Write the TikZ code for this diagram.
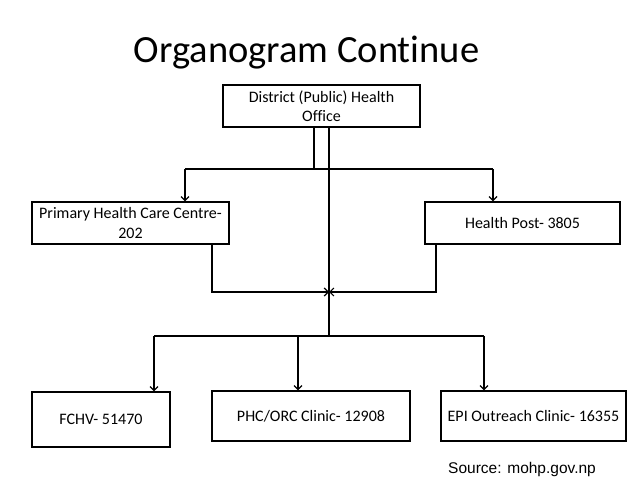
\documentclass[tikz,border=0pt]{standalone}
\usepackage{fontspec}
\setmainfont{Carlito}[RawFeature=-liga]
\newfontfamily\srcfont{Liberation Sans}
\usetikzlibrary{arrows.meta}
\begin{document}
\begin{tikzpicture}[x=1pt,y=-1pt,
  box/.style={draw,line width=1.3pt,align=center,inner sep=0pt,font=\fontsize{16}{19.5}\selectfont},
  ln/.style={line width=1.3pt},
  arr/.style={ln,-{Straight Barb[length=4pt,width=8pt,line width=1.2pt]}}]
\useasboundingbox (0,0) rectangle (638,479);
\node[anchor=base,inner sep=0pt] (title) at (306.5,62) {\fontsize{38.5}{40}\selectfont Organogram Continue};
\node[box,minimum width=197pt,minimum height=42pt] (top) at (321.5,106) {District (Public) Health\\Office};
\node[box,minimum width=197pt,minimum height=42pt] (pri) at (130.5,223) {Primary Health Care Centre-\\202};
\node[box,minimum width=195pt,minimum height=42pt] (hp) at (522.5,223) {Health Post- 3805};
\node[box,minimum width=138pt,minimum height=55pt] (fchv) at (101,419.5) {FCHV- 51470};
\node[box,minimum width=198pt,minimum height=50pt] (phc) at (311,416) {PHC/ORC Clinic- 12908};
\node[box,minimum width=185pt,minimum height=50pt] (epi) at (533.5,416) {EPI Outreach Clinic- 16355};
\node[anchor=base west,inner sep=0pt,font=\srcfont\fontsize{15.5}{18}\selectfont] (src) at (448,473) {Source: mohp.gov.np};
% upper bus
\coordinate (j1) at (314,169);
\coordinate (bL) at (185,169);
\coordinate (bR) at (493,169);
\draw[ln] (top.south -| j1) -- (j1);
\draw[ln] (bL) -- (bR);
\draw[arr] (bL) -- (bL |- pri.north);
\draw[arr] (bR) -- (bR |- hp.north);
% trunk
\coordinate (trunk) at (329,336);
\coordinate (m) at (329,292);
\draw[ln] (top.south -| trunk) -- (trunk);
\coordinate (p1) at (212,292);
\coordinate (h1) at (436,292);
\draw[arr] (pri.south -| p1) -- (p1) -- (m);
\draw[arr] (hp.south -| h1) -- (h1) -- (m);
% lower bus
\coordinate (cL) at (154,336);
\coordinate (cM) at (298,336);
\coordinate (cR) at (484,336);
\draw[ln] (cL) -- (cR);
\draw[arr] (cL) -- (cL |- fchv.north);
\draw[arr] (cM) -- (cM |- phc.north);
\draw[arr] (cR) -- (cR |- epi.north);
\end{tikzpicture}
\end{document}
